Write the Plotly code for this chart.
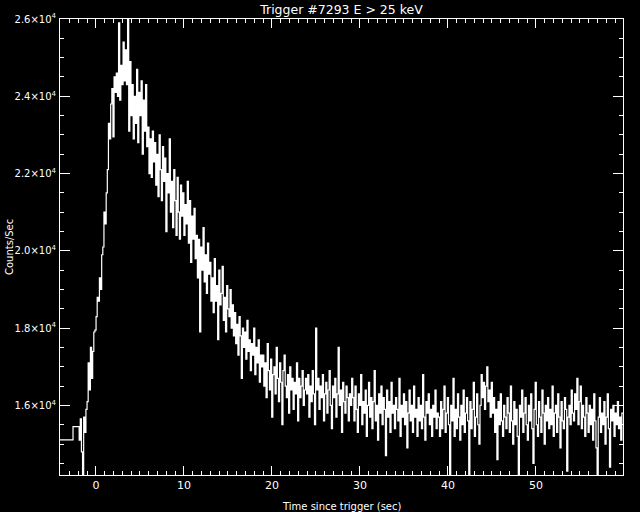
import plotly.graph_objects as go

# ---- data ----
pre_t = [-4.08, -2.60]            # coarse pre-burst bin starts (sec)
pre_rate = [15110, 15450]          # counts/sec
t_start = -2.03                    # start of fine-resolution data (sec)
t_end = 59.9                       # end of data (sec)

rate = [
    # -2.0 .. 3.7 s : rise and peak
    15450, 15100, 15650, 14800, 14000, 15700, 15300, 15900, 16100, 17100,
    16400, 17500, 16700, 17400, 17900, 17950, 18300, 18800, 18700, 19300,
    19000, 19900, 20100, 21000, 20700, 21500, 22100, 23300, 22900, 23800,
    24200, 22950, 24500, 24100, 24600, 24000, 25900, 23900, 24800, 24300,
    25400, 24400, 25200, 24300, 26200, 23100, 24900, 23500, 24300, 22900,
    24000,
    # 4.5 .. 10.5 s
    23300, 24700, 22800, 24100, 23500, 24400,
    22500, 23900, 23100, 24300, 22700,
    23200, 22000, 22900, 21900, 23100, 22300, 22800, 21700,
    22500, 21400, 23000, 22100, 21300, 22700, 21800, 22400,
    20500, 22000, 21500, 22900, 21000, 21800, 20600, 22100,
    21300, 20400, 21900, 21000, 20300, 21700, 20900, 21500, 20400, 21200, 20700, 21800,
    # 10.5 .. 15.8 s
    20200, 21300, 19700, 20900, 20300, 21100, 19800,
    20400, 19300, 20300, 17900, 20100, 19500, 20600, 19200, 19900, 18900, 20200, 19400, 19700, 18700,
    19300, 18400, 19800, 18700, 19100, 17700, 19500, 18600, 18900, 19600,
    18200, 18800, 17900, 19100, 18500, 18300, 19000, 18000, 18600, 17800,
    # 15.8 .. 19 s
    18400, 17600, 18100, 17300, 18300, 17800, 16700, 18000, 17500, 17900,
    17200, 18200, 17400, 17700, 16900, 17600, 17300, 18000, 16800, 17500,
    17100, 17700, 16600, 17300, 17000,
    # 19 .. 24 s
    17300, 16500, 17100, 16200, 17600, 16900, 16400, 17200, 15700, 16800,
    17000, 16300, 17500, 16700, 16100, 17100, 16600, 15500, 16900, 17300,
    16500, 16200, 16800, 15800, 17000, 16400, 16700, 15900, 16600, 16300,
    17100, 15600, 16700, 16200, 16500, 16900, 16000, 16400, 16700,
    # 24 .. 29.2 s
    16300, 16800, 15700, 16500, 16100, 16900, 16300, 15500, 18000, 16400,
    16700, 15900, 16500, 16200, 16800, 15600, 16300, 16600, 15800, 16400,
    16900, 16000, 15400, 16500, 16200, 16700, 15700, 16300, 17500, 16000,
    16400, 15300, 16600, 16100, 15800, 16500, 16200, 15600, 16300, 16000, 16700,
    # 29.2 .. 39 s
    16200, 15600, 16500, 15900, 15300, 16300, 16000, 16800, 15500, 16100,
    15800, 16400, 15200, 16000, 16600, 15700, 16200, 15400, 16100, 16900,
    15600, 16000, 15100, 16300, 15800, 16500, 15500, 16200, 15900, 14700,
    16400, 15700, 16100, 15300, 16600, 15800, 16000, 15400, 16200, 15900,
    15600, 16700, 15200, 16000, 15700, 16300, 15500, 16100, 14900, 15800,
    16400, 15600, 16000, 15300, 16500, 15700, 15900, 15200, 16200, 15600,
    16000, 15400, 16800, 15700, 15100, 16100, 15800, 16300, 15500, 15900,
    15200, 16000, 15700, 16400, 15400, 15800,
    # 39 .. 60 s
    15700, 15200, 16100, 15400, 15900, 16500, 15300, 15800, 16200, 15500,
    14000, 16000, 15600, 16700, 15200, 15900, 15400, 16300, 15700, 15100,
    16000, 15500, 16400, 15300, 15800, 16200, 15600, 13900, 16100, 15400,
    15900, 16600, 15200, 15700, 16300, 15500, 15000, 16000, 16800, 16200,
    16600, 15900, 16500, 17000, 16100, 16400, 15700, 16600, 15800, 16200,
    15300, 15900, 14600, 16100, 15500, 16300, 15600, 15200, 16000, 15700,
    15400, 16200, 15800, 15300, 16500, 15600, 15000, 16100, 15500, 15900,
    15200, 13800, 16000, 15700, 16400, 15300, 15800, 16200, 15500, 15100,
    16000, 15600, 16300, 15400, 14500, 15900, 16600, 15500, 15200, 16100,
    15700, 15300, 16400, 15800, 15000, 16000, 15600, 16200, 15400, 15900,
    15500, 16500, 15200, 15800, 16000, 15300, 16300, 15700, 14900, 16100,
    15600, 15400, 16200, 15900, 14300, 15700, 16000, 15500, 16400, 15800,
    15600, 16300, 15900, 16700, 15500, 16100, 16500, 15400, 16000, 15700,
    15200, 16200, 15800, 15300, 16000, 15500, 15900, 15100, 16300, 15600,
    14900, 13900, 15700, 16200, 15300, 15800, 15500, 16100, 15000, 15700,
    16300, 15400, 14400, 15900, 15600, 16000, 15200, 15800, 15500, 16100,
    15400, 15700, 15100, 15800,
]

y_tickvals = [16000, 18000, 20000, 22000, 24000, 26000]
y_ticktext = ["1.6×10<sup>4</sup>", "1.8×10<sup>4</sup>", "2.0×10<sup>4</sup>",
              "2.2×10<sup>4</sup>", "2.4×10<sup>4</sup>", "2.6×10<sup>4</sup>"]

# ---- build step series ----
dt = (t_end - t_start) / len(rate)
times = list(pre_t) + [t_start + i * dt for i in range(len(rate))] + [t_end]
values = list(pre_rate) + list(rate) + [rate[-1]]

fig = go.Figure()
fig.add_trace(go.Scatter(x=times, y=values, mode="lines",
                         line=dict(color="white", width=1.2, shape="hv"),
                         hoverinfo="skip", showlegend=False))

font = dict(family="DejaVu Sans", color="white")

axis_common = dict(showgrid=False, zeroline=False, showline=True, linecolor="white",
                   linewidth=1, mirror="allticks", ticks="inside", tickcolor="white",
                   tickwidth=1)

fig.update_xaxes(range=[-4.08, 59.9], tickmode="linear", tick0=0, dtick=10, ticklen=9,
                 tickfont=dict(size=11, **font),
                 minor=dict(ticks="inside", ticklen=4, dtick=1, tick0=0, tickcolor="white"),
                 **axis_common)
fig.update_yaxes(range=[14200, 26000], tickmode="array", tickvals=y_tickvals,
                 ticktext=y_ticktext, ticklen=10, tickfont=dict(size=10, **font),
                 ticklabelstandoff=1,
                 minor=dict(ticks="inside", ticklen=4, tickmode="linear", tick0=0,
                            dtick=500, tickcolor="white"),
                 **axis_common)

fig.update_layout(
    width=640, height=512,
    paper_bgcolor="black", plot_bgcolor="black",
    margin=dict(l=60, r=17, t=17, b=37),
    title=dict(text="Trigger #7293 E > 25 keV", x=0.5, xanchor="center", xref="paper",
               y=1 - 9.5 / 512, yanchor="middle", yref="container",
               font=dict(size=12.5, **font)),
    annotations=[
        dict(text="Time since trigger (sec)", xref="paper", yref="paper",
             x=0.5, y=-32 / 458, xanchor="center", yanchor="middle",
             showarrow=False, font=dict(size=10, **font)),
        dict(text="Counts/Sec", xref="paper", yref="paper",
             x=-51 / 563, y=0.5, xanchor="center", yanchor="middle",
             textangle=-90, showarrow=False, font=dict(size=10, **font)),
    ],
)

fig.write_html("out.html", config={"displayModeBar": False},
               post_script="document.body.style.margin='0';document.body.style.background='black';")
